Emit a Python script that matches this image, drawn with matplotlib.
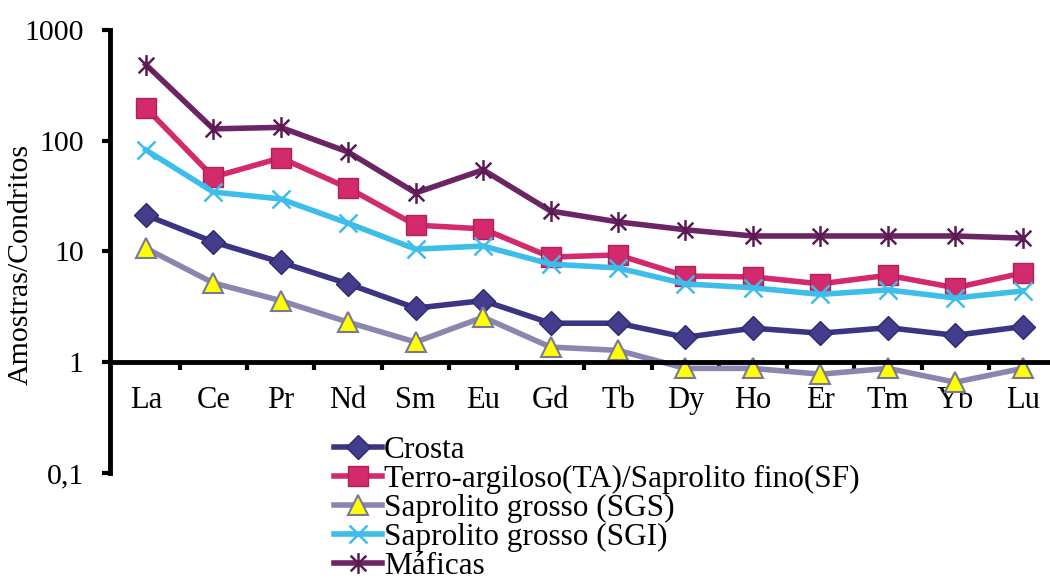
import numpy as np
import matplotlib.pyplot as plt
from matplotlib.path import Path

# elementos terras raras normalizados ao condrito
elementos = ['La', 'Ce', 'Pr', 'Nd', 'Sm', 'Eu', 'Gd', 'Tb', 'Dy', 'Ho', 'Er', 'Tm', 'Yb', 'Lu']

crosta = [21.3, 12.2, 8.0, 5.1, 3.08, 3.6, 2.25, 2.25, 1.68, 2.03, 1.83, 2.05, 1.75, 2.1]
ta_sf = [198, 47, 70, 37.4, 17.3, 16.0, 8.9, 9.3, 6.0, 5.9, 5.1, 6.1, 4.7, 6.4]
sgs = [10.7, 5.2, 3.6, 2.3, 1.52, 2.55, 1.37, 1.28, 0.88, 0.88, 0.78, 0.88, 0.66, 0.88]
sgi = [82.6, 34.4, 29.8, 18.0, 10.5, 11.2, 7.7, 7.1, 5.1, 4.7, 4.1, 4.5, 3.8, 4.4]
maficas = [487, 128, 132, 79, 33.8, 54.6, 23.2, 18.5, 15.7, 13.8, 13.8, 13.8, 13.8, 13.2]

rotulos = ['Crosta', 'Terro-argiloso(TA)/Saprolito fino(SF)', 'Saprolito grosso (SGS)',
           'Saprolito grosso (SGI)', 'Máficas']
y_ticks = [0.1, 1, 10, 100, 1000]
y_labels = ['0,1', '1', '10', '100', '1000']

# asterisco tipo Excel: traço vertical + X
asterisco = Path([(0, -1), (0, 1), (-0.75, -0.75), (0.75, 0.75), (-0.75, 0.75), (0.75, -0.75)],
                 [Path.MOVETO, Path.LINETO, Path.MOVETO, Path.LINETO, Path.MOVETO, Path.LINETO])

plt.rcParams['font.family'] = ['Liberation Serif', 'DejaVu Serif']

fig = plt.figure(figsize=(10.5, 5.83), dpi=100)
ax = fig.add_axes([0.1048, 0.1887, 0.9014, 0.7599])

x = np.arange(len(elementos))
lw = 4.0
ax.plot(x, crosta, color='#3b3584', lw=lw, marker='D', ms=12, mfc='#443d8e', mec='#2e2a6a',
        mew=1, label=rotulos[0], clip_on=False)
ax.plot(x, ta_sf, color='#d22a6c', lw=lw, marker='s', ms=15, mfc='#d22a6c', mec='#b02059',
        mew=1, label=rotulos[1], clip_on=False)
ax.plot(x, sgs, color='#8a86ad', lw=lw, marker='^', ms=14, mfc='#ffff00', mec='#7a7898',
        mew=1.5, label=rotulos[2], clip_on=False)
ax.plot(x, sgi, color='#3dbde9', lw=lw, marker='x', ms=13, mec='#3dbde9', mew=1.8,
        label=rotulos[3], clip_on=False)
ax.plot(x, maficas, color='#6b2464', lw=lw, marker=asterisco, ms=15, mec='#5a1a52', mew=1.8,
        label=rotulos[4], clip_on=False)

ax.set_yscale('log')
ax.set_ylim(0.1, 1000)
ax.set_xlim(-0.53, 13.5)
ax.set_yticks(y_ticks)
ax.set_yticklabels(y_labels)
ax.yaxis.set_minor_locator(plt.NullLocator())
ax.tick_params(axis='y', which='major', direction='out', length=6, width=3, pad=13,
               labelsize=21.5)

ax.set_xticks(x)
ax.set_xticklabels(elementos)
ax.set_xticks(x[:-1] + 0.5, minor=True)
ax.tick_params(axis='x', which='major', length=0, pad=17, labelsize=22)
ax.tick_params(axis='x', which='minor', direction='out', length=6, width=3)

for lado in ['top', 'right']:
    ax.spines[lado].set_visible(False)
ax.spines['left'].set_linewidth(3.5)
ax.spines['bottom'].set_linewidth(3.5)
ax.spines['bottom'].set_position(('data', 1))

ax.set_ylabel('Amostras/Condritos', fontsize=21.5)
ax.yaxis.set_label_coords(-0.081, 0.47)

ax.legend(loc='upper left', bbox_to_anchor=(0.318, 0.252), bbox_transform=fig.transFigure,
          frameon=False, fontsize=22.5, handlelength=1.55, handletextpad=0.05,
          labelspacing=0.0, borderpad=0, borderaxespad=0)

fig.savefig('out.png', dpi=100)
